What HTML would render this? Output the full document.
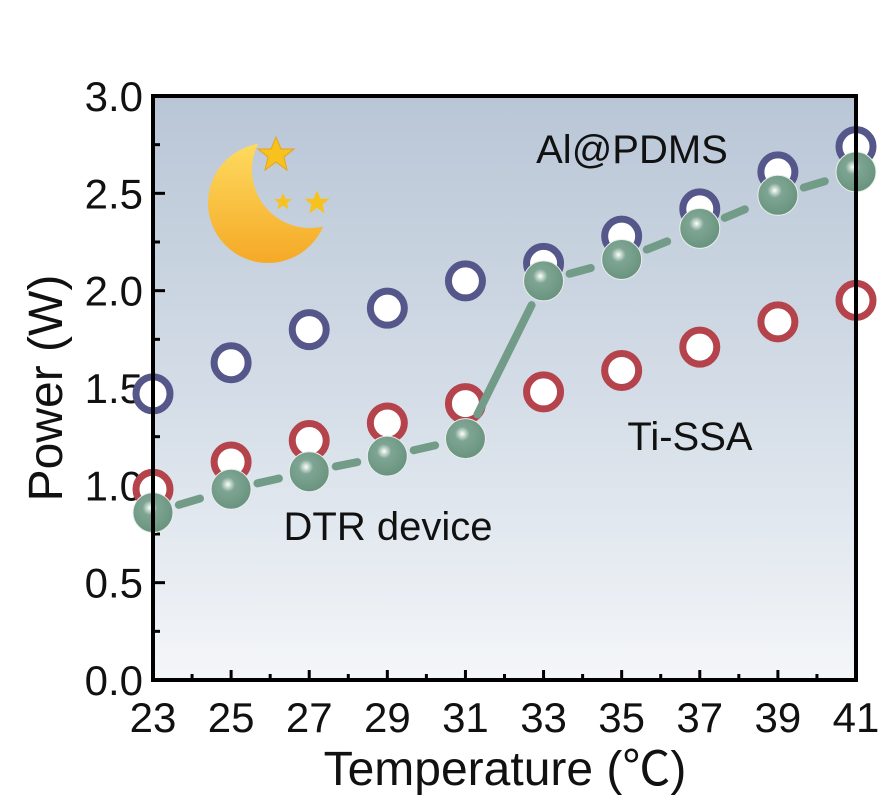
<!DOCTYPE html>
<html><head><meta charset="utf-8"><style>
body{margin:0;background:#fff;}
svg text{font-family:"Liberation Sans","Noto Sans CJK SC",sans-serif;fill:#111;}
</style></head><body>
<svg width="886" height="798" viewBox="0 0 886 798">
<defs>
<linearGradient id="bg" x1="0" y1="0" x2="0" y2="1">
<stop offset="0" stop-color="#b9c6d6"/><stop offset="0.6" stop-color="#d9e1ea"/><stop offset="1" stop-color="#f4f6f9"/>
</linearGradient>
<radialGradient id="ball" cx="0.42" cy="0.38" r="0.6">
<stop offset="0" stop-color="#ffffff"/><stop offset="0.12" stop-color="#c9dbd2"/><stop offset="0.3" stop-color="#7ea593"/><stop offset="1" stop-color="#6a9480"/>
</radialGradient>
<linearGradient id="moon" x1="0" y1="0" x2="0" y2="1">
<stop offset="0" stop-color="#ffe46a"/><stop offset="1" stop-color="#f5a623"/>
</linearGradient>
<mask id="crescent">
<rect x="150" y="90" width="250" height="220" fill="#000"/>
<circle cx="268" cy="203" r="60" fill="#fff"/>
<circle cx="310" cy="170" r="58" fill="#000"/>
</mask>
</defs>
<rect x="153" y="96" width="703" height="584" fill="url(#bg)"/>
<g id="ticks"></g>
<g>
<rect x="200" y="120" width="150" height="150" fill="url(#moon)" mask="url(#crescent)"/>
<polygon fill="#f7c21e" stroke="#e9a31a" points="0,-18 5,-6 18,-6 8,2 11,15 0,7 -11,15 -8,2 -18,-6 -5,-6" transform="translate(276,155)"/>
<polygon fill="#f7c21e" points="0,-18 5,-6 18,-6 8,2 11,15 0,7 -11,15 -8,2 -18,-6 -5,-6" transform="translate(283,202) scale(0.5)"/>
<polygon fill="#f7c21e" points="0,-18 5,-6 18,-6 8,2 11,15 0,7 -11,15 -8,2 -18,-6 -5,-6" transform="translate(317,203) scale(0.7)"/>
</g>
<g id="series"></g>
<rect x="153" y="96" width="703" height="584" fill="none" stroke="#000" stroke-width="4"/>
<text x="632" y="163" font-size="40" text-anchor="middle">Al@PDMS</text>
<text x="690" y="450" font-size="40" text-anchor="middle">Ti-SSA</text>
<text x="388" y="540" font-size="40" text-anchor="middle">DTR device</text>
<text x="505" y="785" font-size="48" text-anchor="middle">Temperature (℃)</text>
<text transform="translate(62,388) rotate(-90)" font-size="48" text-anchor="middle">Power (W)</text>
</svg>
<script>
const xCats=[23,25,27,29,31,33,35,37,39,41];
const yTicks=[0.0,0.5,1.0,1.5,2.0,2.5,3.0];
const alPdms=[1.47,1.63,1.80,1.91,2.05,2.14,2.28,2.42,2.61,2.74];
const tiSsa=[0.98,1.12,1.23,1.32,1.42,1.48,1.59,1.71,1.84,1.95];
const dtr=[0.86,0.98,1.07,1.15,1.24,2.05,2.16,2.32,2.49,2.61];
const NS="http://www.w3.org/2000/svg";
const X=v=>153+(v-23)/18*703, Y=v=>680-v/3*584;
function mk(t,a,p){const e=document.createElementNS(NS,t);for(const k in a)e.setAttribute(k,a[k]);p.appendChild(e);return e;}
const tk=document.getElementById('ticks'), sr=document.getElementById('series');
xCats.forEach(c=>{
 const t=mk('text',{x:X(c),y:732,'font-size':42,'text-anchor':'middle'},tk);t.textContent=c;
 
 
 mk('line',{x1:X(c),x2:X(c),y1:680,y2:670,stroke:'#000','stroke-width':3},tk);
 if(c<41) mk('line',{x1:X(c+1),x2:X(c+1),y1:680,y2:674,stroke:'#000','stroke-width':3},tk);
});
yTicks.forEach(v=>{
 const t=mk('text',{x:143,y:Y(v)+15,'font-size':42,'text-anchor':'end'},tk);t.textContent=v.toFixed(1);
 
 
 mk('line',{x1:153,x2:165,y1:Y(v),y2:Y(v),stroke:'#000','stroke-width':3},tk);
 if(v<3) mk('line',{x1:153,x2:160,y1:Y(v+0.25),y2:Y(v+0.25),stroke:'#000','stroke-width':3},tk);
});
function rings(arr,col,name){arr.forEach((v,i)=>{
 const c=mk('circle',{cx:X(xCats[i]),cy:Y(v),r:17,fill:'#fff',stroke:col,'stroke-width':7},sr);
 
 
});}
rings(alPdms,'#55578a','al-pdms-point');
rings(tiSsa,'#b4434c','ti-ssa-point');
for(let i=0;i<dtr.length-1;i++){
 const x1=X(xCats[i]),y1=Y(dtr[i]),x2=X(xCats[i+1]),y2=Y(dtr[i+1]);
 const dx=x2-x1,dy=y2-y1,L=Math.hypot(dx,dy),g=27;
 const l=mk('line',{x1:x1+dx*g/L,y1:y1+dy*g/L,x2:x2-dx*g/L,y2:y2-dy*g/L,stroke:'#739c88','stroke-width':8,'stroke-linecap':'round'},sr);
 if(i!==4){l.setAttribute('stroke-dasharray','22 12');}
 
 
}
dtr.forEach((v,i)=>{
 const c=mk('circle',{cx:X(xCats[i]),cy:Y(v),r:20,fill:'url(#ball)',stroke:'#e8eeea','stroke-width':1},sr);
 
 
});
</script>
</body></html>
